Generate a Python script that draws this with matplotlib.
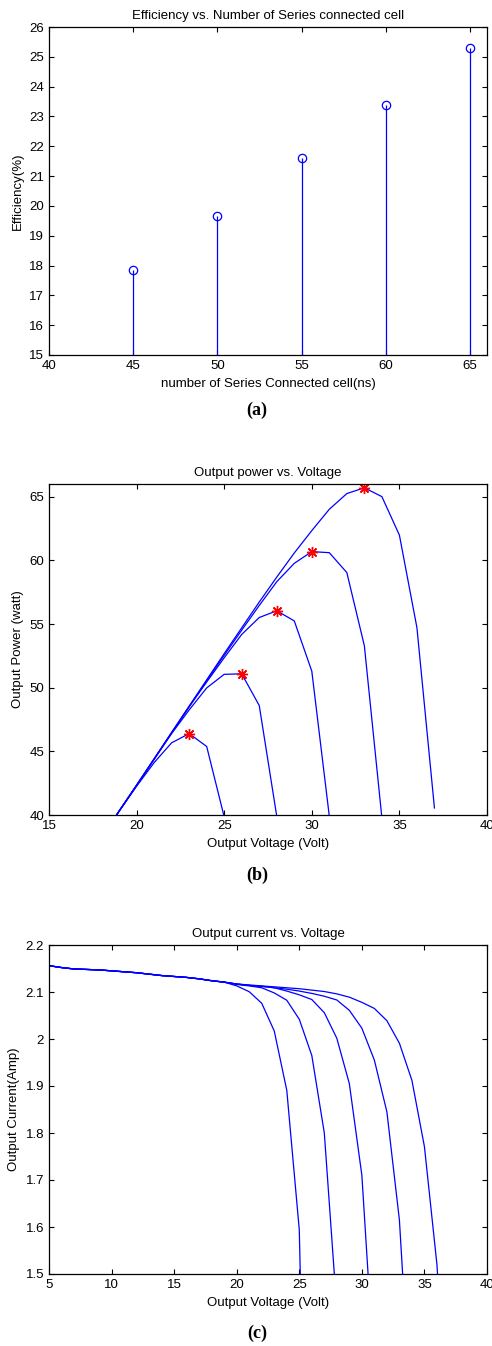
import numpy as np
import matplotlib
matplotlib.use("Agg")
import matplotlib.pyplot as plt
from matplotlib.ticker import FormatStrFormatter

plt.rcParams['font.family'] = ['Liberation Sans', 'DejaVu Sans']
plt.rcParams['font.size'] = 9.5

# (a) efficiency vs number of series cells
ns = [45, 50, 55, 60, 65]
efficiency = [17.85, 19.65, 21.6, 23.4, 25.3]

# (c) I-V data, common part for V = 5..19
volt_base = [5, 6, 7, 8, 9, 10, 11, 12, 13, 14, 15, 16, 17, 18, 19]
curr_base = [2.156, 2.152, 2.149, 2.148, 2.147, 2.145, 2.143, 2.141,
             2.138, 2.135, 2.133, 2.131, 2.128, 2.124, 2.121]

# currents from V = 20 upward, one list per ns
curr_45 = [2.113, 2.1006, 2.076, 2.017, 1.891, 1.594, 0.42]
curr_50 = [2.116, 2.113, 2.109, 2.098, 2.0825, 2.042, 1.965, 1.80, 1.425]
curr_55 = [2.117, 2.114, 2.112, 2.109, 2.102, 2.094, 2.084, 2.056, 2.0015,
           1.905, 1.71, 1.287]
curr_60 = [2.117, 2.114, 2.112, 2.109, 2.106, 2.102, 2.097, 2.091, 2.083,
           2.061, 2.023, 1.955, 1.845, 1.615, 1.17]
curr_65 = [2.117, 2.115, 2.113, 2.111, 2.109, 2.107, 2.104, 2.101, 2.096,
           2.089, 2.078, 2.065, 2.039, 1.991, 1.912, 1.771, 1.52, 1.096]
curves = [curr_45, curr_50, curr_55, curr_60, curr_65]


def iv(tail):
    v = np.array(volt_base + list(range(20, 20 + len(tail))), dtype=float)
    i = np.array(curr_base + tail)
    return v, i


def matlab_axes(ax):
    ax.tick_params(direction='in', top=True, right=True, length=3.5,
                   width=0.8, labelsize=9.5, pad=3.5)
    for s in ax.spines.values():
        s.set_linewidth(0.9)


fig = plt.figure(figsize=(4.92, 13.46), dpi=100)
W, H = 492.0, 1346.0

# ---- (a)
ax1 = fig.add_axes([49 / W, (H - 355) / H, 438 / W, 328 / H])
ml, sl, bl = ax1.stem(ns, efficiency, linefmt='b-', markerfmt='bo', basefmt=' ')
ml.set_markerfacecolor('none')
ml.set_markersize(6)
ml.set_markeredgewidth(0.9)
sl.set_linewidth(0.9)
ax1.set_xlim(40, 66)
ax1.set_ylim(15, 26)
ax1.set_xticks(np.arange(40, 66, 5))
ax1.set_yticks(np.arange(15, 27, 1))
ax1.set_title('Efficiency vs. Number of Series connected cell', fontsize=9.5)
ax1.set_xlabel('number of Series Connected cell(ns)', labelpad=4.5)
ax1.set_ylabel('Efficiency(%)', labelpad=4)
matlab_axes(ax1)

# ---- (b)
ax2 = fig.add_axes([49 / W, (H - 815) / H, 438 / W, 331 / H])
for tail in curves:
    v, i = iv(tail)
    p = v * i
    ax2.plot(v, p, color='b', lw=0.9)
    k = np.argmax(p)
    ax2.plot(v[k], p[k], marker=(8, 2, 0), color='r', ms=8, mew=1.0)
ax2.set_xlim(15, 40)
ax2.set_ylim(40, 66)
ax2.set_xticks(np.arange(15, 41, 5))
ax2.set_yticks(np.arange(40, 66, 5))
ax2.set_title('Output power vs. Voltage', fontsize=9.5)
ax2.set_xlabel('Output Voltage (Volt)', labelpad=4.5)
ax2.set_ylabel('Output Power (watt)', labelpad=4)
matlab_axes(ax2)

# ---- (c)
ax3 = fig.add_axes([49 / W, (H - 1274) / H, 438 / W, 329 / H])
for tail in curves:
    v, i = iv(tail)
    ax3.plot(v, i, color='b', lw=0.9)
ax3.set_xlim(5, 40)
ax3.set_ylim(1.5, 2.2)
ax3.set_xticks(np.arange(5, 41, 5))
ax3.set_yticks(np.round(np.arange(1.5, 2.21, 0.1), 1))
ax3.yaxis.set_major_formatter(FormatStrFormatter('%g'))
ax3.set_title('Output current vs. Voltage', fontsize=9.5)
ax3.set_xlabel('Output Voltage (Volt)', labelpad=4.5)
ax3.set_ylabel('Output Current(Amp)', labelpad=4)
matlab_axes(ax3)

for lab, y in [('(a)', 410), ('(b)', 875), ('(c)', 1333)]:
    fig.text(257 / W, (H - y) / H, lab, ha='center', va='center',
             family='Liberation Serif', weight='bold', fontsize=13)

fig.savefig('out.png', dpi=100)
